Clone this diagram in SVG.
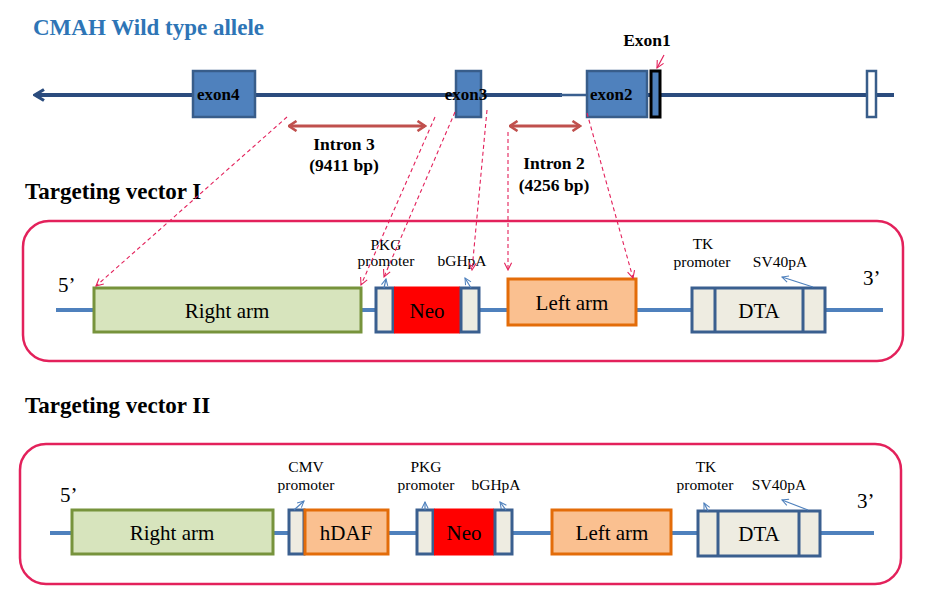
<svg xmlns="http://www.w3.org/2000/svg" width="927" height="602" viewBox="0 0 927 602">
<defs>
<style>
.bt{font-family:'Liberation Serif','Times New Roman','DejaVu Serif',serif;font-weight:bold;fill:#000}
.rt{font-family:'Liberation Serif','Times New Roman','DejaVu Serif',serif;fill:#000}
.exon{fill:#4F81BD;stroke:#385D8A;stroke-width:2.5}
.frame{fill:none;stroke:#E3215B;stroke-width:2.5}
.bb{stroke:#4F81BD;stroke-width:4;fill:none}
.ra{fill:#D7E4BD;stroke:#77933C;stroke-width:3}
.la{fill:#FAC090;stroke:#E36C09;stroke-width:3}
.el{fill:#EEECE1;stroke:#3A5F8F;stroke-width:3}
.neo{fill:#FF0000;stroke:none}
.dash{stroke:#E3215B;stroke-width:1.1;stroke-dasharray:4 3;fill:none;marker-end:url(#ra)}
.sm{stroke:#4F81BD;stroke-width:1.2;fill:none;marker-end:url(#ba)}
.intr{stroke:#C0504D;stroke-width:3;fill:none;marker-start:url(#ia);marker-end:url(#ia)}
</style>
<marker id="ra" viewBox="0 0 10 10" refX="9" refY="5" markerWidth="9" markerHeight="9" markerUnits="userSpaceOnUse" orient="auto"><path d="M1,1 L9,5 L1,9" fill="none" stroke="#E3215B" stroke-width="1.2"/></marker>
<marker id="ba" viewBox="0 0 10 10" refX="9" refY="5" markerWidth="8" markerHeight="8" markerUnits="userSpaceOnUse" orient="auto"><path d="M1,1 L9,5 L1,9" fill="none" stroke="#4F81BD" stroke-width="1.3"/></marker>
<marker id="ia" viewBox="0 0 12 12" refX="10.5" refY="6" markerWidth="12" markerHeight="12" markerUnits="userSpaceOnUse" orient="auto-start-reverse"><path d="M3,1 L10.5,6 L3,11" fill="none" stroke="#C0504D" stroke-width="2.6"/></marker>
<marker id="ga" viewBox="0 0 14 14" refX="12" refY="7" markerWidth="14" markerHeight="14" markerUnits="userSpaceOnUse" orient="auto-start-reverse"><path d="M3,1.5 L12,7 L3,12.5" fill="none" stroke="#2B4C7E" stroke-width="3.2"/></marker>
</defs>
<rect width="927" height="602" fill="#fff"/>

<g id="title"><text class="bt" x="33" y="35" font-size="23" font-family="Liberation Serif, DejaVu Serif, serif" style="fill:#2E75B6">CMAH Wild type allele</text></g>

<g id="gene">
<line x1="562" y1="95" x2="35" y2="95" stroke="#2B4C7E" stroke-width="4" marker-end="url(#ga)"/>
<line x1="560" y1="95" x2="590" y2="95" stroke="#3A5F8F" stroke-width="2.5"/>
<line x1="645" y1="95" x2="894" y2="95" stroke="#2B4C7E" stroke-width="4"/>
</g>
<g id="exon4"><rect class="exon" x="193" y="71" width="62" height="46"/><text class="bt" x="197" y="100" font-size="17">exon4</text></g>
<g id="exon3"><rect class="exon" x="456" y="71" width="25" height="46"/><text class="bt" x="466" y="100" font-size="17" text-anchor="middle">exon3</text></g>
<g id="exon2"><rect class="exon" x="587" y="71" width="60" height="46"/><text class="bt" x="590" y="100" font-size="17">exon2</text></g>
<g id="exon1"><rect x="651" y="71" width="9" height="46" fill="#4F81BD" stroke="#000" stroke-width="3"/><text class="bt" x="647" y="46" font-size="17.5" text-anchor="middle">Exon1</text></g>
<g id="exon0"><rect x="867" y="71" width="9" height="46" fill="#fff" stroke="#385D8A" stroke-width="2.5"/></g>

<g id="intron3"><line class="intr" x1="289" y1="126" x2="425" y2="126"/><text class="bt" x="344" y="150" font-size="17.5" text-anchor="middle">Intron 3</text><text class="bt" x="344" y="171" font-size="17.5" text-anchor="middle">(9411 bp)</text></g>
<g id="intron2"><line class="intr" x1="510" y1="126" x2="580" y2="126"/><text class="bt" x="554" y="169" font-size="17.5" text-anchor="middle">Intron 2</text><text class="bt" x="554" y="191" font-size="17.5" text-anchor="middle">(4256 bp)</text></g>

<g id="tv1label"><text class="bt" x="25" y="199" font-size="23">Targeting vector I</text></g>
<g id="tv1">
<rect class="frame" x="23" y="221" width="880" height="140" rx="26"/>
<line class="bb" x1="56" y1="310" x2="883" y2="310"/>
<text class="rt" x="58" y="292" font-size="21">5’</text>
<text class="rt" x="863" y="285" font-size="21">3’</text>
</g>
<g id="v1-rightarm"><rect class="ra" x="94" y="288" width="267" height="44"/><text class="rt" x="227" y="318" font-size="21" text-anchor="middle">Right arm</text></g>
<g id="v1-pkg"><rect class="el" x="376" y="288" width="17" height="44"/><text class="rt" x="386" y="250" font-size="15.5" text-anchor="middle">PKG</text><text class="rt" x="386" y="266" font-size="15.5" text-anchor="middle">promoter</text></g>
<g id="v1-neo"><rect class="neo" x="394" y="286.5" width="66" height="47"/><text class="rt" x="427" y="318" font-size="21" text-anchor="middle">Neo</text></g>
<g id="v1-bgh"><rect class="el" x="461" y="288" width="18" height="44"/><text class="rt" x="462" y="266" font-size="15.5" text-anchor="middle">bGHpA</text></g>
<g id="v1-leftarm"><rect class="la" x="508" y="279" width="128" height="46"/><text class="rt" x="572" y="310" font-size="21" text-anchor="middle">Left arm</text></g>
<g id="v1-dta"><rect class="el" x="692" y="288" width="133" height="44"/><line x1="715" y1="288" x2="715" y2="332" stroke="#3A5F8F" stroke-width="3"/><line x1="803" y1="288" x2="803" y2="332" stroke="#3A5F8F" stroke-width="3"/><text class="rt" x="759" y="318" font-size="21" text-anchor="middle">DTA</text>
<text class="rt" x="703" y="249" font-size="15.5" text-anchor="middle">TK</text><text class="rt" x="702" y="267" font-size="15.5" text-anchor="middle">promoter</text><text class="rt" x="780" y="267" font-size="15.5" text-anchor="middle">SV40pA</text></g>

<g id="tv2label"><text class="bt" x="25" y="413" font-size="23">Targeting vector II</text></g>
<g id="tv2">
<rect class="frame" x="20" y="444" width="881" height="140" rx="26"/>
<line class="bb" x1="50" y1="533" x2="874" y2="533"/>
<text class="rt" x="60" y="502" font-size="21">5’</text>
<text class="rt" x="857" y="508" font-size="21">3’</text>
</g>
<g id="v2-rightarm"><rect class="ra" x="72" y="510" width="201" height="44"/><text class="rt" x="172" y="540" font-size="21" text-anchor="middle">Right arm</text></g>
<g id="v2-cmv"><rect class="el" x="289" y="510" width="15" height="44"/><text class="rt" x="306" y="472" font-size="15.5" text-anchor="middle">CMV</text><text class="rt" x="306" y="490" font-size="15.5" text-anchor="middle">promoter</text></g>
<g id="v2-hdaf"><rect class="la" x="305" y="510" width="83" height="44"/><text class="rt" x="346" y="540" font-size="21" text-anchor="middle">hDAF</text></g>
<g id="v2-pkg"><rect class="el" x="417" y="510" width="16" height="44"/><text class="rt" x="426" y="472" font-size="15.5" text-anchor="middle">PKG</text><text class="rt" x="426" y="490" font-size="15.5" text-anchor="middle">promoter</text></g>
<g id="v2-neo"><rect class="neo" x="434" y="508.5" width="60" height="47"/><text class="rt" x="464" y="540" font-size="21" text-anchor="middle">Neo</text></g>
<g id="v2-bgh"><rect class="el" x="495" y="510" width="17" height="44"/><text class="rt" x="496" y="490" font-size="15.5" text-anchor="middle">bGHpA</text></g>
<g id="v2-leftarm"><rect class="la" x="552" y="510" width="119" height="44"/><text class="rt" x="612" y="540" font-size="21" text-anchor="middle">Left arm</text></g>
<g id="v2-dta"><rect class="el" x="698" y="511" width="122" height="45"/><line x1="718" y1="511" x2="718" y2="556" stroke="#3A5F8F" stroke-width="3"/><line x1="799" y1="511" x2="799" y2="556" stroke="#3A5F8F" stroke-width="3"/><text class="rt" x="759" y="541" font-size="21" text-anchor="middle">DTA</text>
<text class="rt" x="706" y="472" font-size="15.5" text-anchor="middle">TK</text><text class="rt" x="705" y="490" font-size="15.5" text-anchor="middle">promoter</text><text class="rt" x="779" y="490" font-size="15.5" text-anchor="middle">SV40pA</text></g>

<g id="connectors">
<line x1="664" y1="55" x2="657" y2="68" stroke="#E3215B" stroke-width="1.2" marker-end="url(#ra)"/>
<line class="dash" x1="287" y1="117" x2="96" y2="286"/>
<line class="dash" x1="435" y1="117" x2="361" y2="285"/>
<line class="dash" x1="455" y1="112" x2="384" y2="277"/>
<line class="dash" x1="487" y1="110" x2="472" y2="270"/>
<line class="dash" x1="508" y1="132" x2="508" y2="270"/>
<line class="dash" x1="587" y1="113" x2="633" y2="278"/>
<line class="sm" x1="384" y1="288" x2="386" y2="279"/>
<line class="sm" x1="471" y1="288" x2="465" y2="278"/>
<line class="sm" x1="813" y1="287" x2="782" y2="277"/>
<line class="sm" x1="294" y1="510" x2="304" y2="501"/>
<line class="sm" x1="425" y1="510" x2="425" y2="502"/>
<line class="sm" x1="506" y1="510" x2="500" y2="502"/>
<line class="sm" x1="708" y1="511" x2="704" y2="503"/>
<line class="sm" x1="808" y1="510" x2="782" y2="500"/>
</g>
</svg>
